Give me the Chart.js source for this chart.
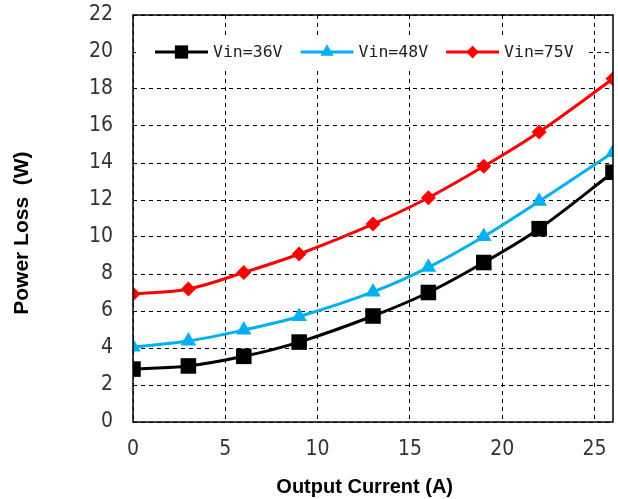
<!DOCTYPE html>
<html lang="en">
<head>
    <meta charset="UTF-8">
    <title>Power Loss vs Output Current</title>
    <script src="https://cdn.jsdelivr.net/npm/chart.js"></script>
    <style>
        html, body {
            margin: 0;
            padding: 0;
            background: #fff;
        }
        .wrap {
            width: 618px;
            height: 499px;
        }
    </style>
</head>
<body>
    <div class="wrap">
        <canvas id="lossChart" width="618" height="499"></canvas>
    </div>

    <script>
        // Measured loss at each load point
        const currents = [0, 3, 6, 9, 13, 16, 19, 22, 26];
        const loss36V = [2.86, 3.03, 3.55, 4.32, 5.73, 7.0, 8.62, 10.45, 13.5];
        const loss48V = [4.05, 4.38, 4.97, 5.7, 7.03, 8.36, 10.03, 11.93, 14.57];
        const loss75V = [6.92, 7.19, 8.08, 9.08, 10.7, 12.12, 13.82, 15.68, 18.55];
        const seriesNames = ['Vin=36V', 'Vin=48V', 'Vin=75V'];

        const tickFont = "'Liberation Sans Narrow', 'DejaVu Sans Condensed', Arial, sans-serif";
        const titleFont = "'Liberation Sans', Arial, sans-serif";

        function toPoints(ys) {
            return currents.map((x, i) => ({ x: x, y: ys[i] }));
        }

        function series(label, ys, color, style, radius) {
            return {
                label: label,
                data: toPoints(ys),
                borderColor: color,
                backgroundColor: color,
                borderWidth: 3,
                pointStyle: style,
                pointRadius: radius,
                pointBorderWidth: 0,
                tension: 0.35
            };
        }

        // Solid frame around the plot and the legend panel inside it
        const framePlugin = {
            id: 'frameAndLegend',
            afterDraw(chart) {
                const ctx = chart.ctx;
                const a = chart.chartArea;
                ctx.save();

                // legend panel hides the grid behind it
                ctx.fillStyle = '#fff';
                ctx.fillRect(a.left + 3, a.top + 21, 449, 34);

                ctx.font = "16.5px 'DejaVu Sans Mono', monospace";
                ctx.textBaseline = 'middle';
                let x = a.left + 22;
                const y = a.top + 37;
                chart.data.datasets.forEach(ds => {
                    ctx.strokeStyle = ds.borderColor;
                    ctx.lineWidth = 3;
                    ctx.beginPath();
                    ctx.moveTo(x, y);
                    ctx.lineTo(x + 53, y);
                    ctx.stroke();
                    ctx.fillStyle = ds.backgroundColor;
                    Chart.helpers.drawPoint(ctx, {
                        pointStyle: ds.pointStyle,
                        radius: ds.pointRadius * 0.85,
                        borderWidth: 0,
                        rotation: 0
                    }, x + 26.5, y);
                    ctx.fillStyle = '#222';
                    ctx.fillText(ds.label, x + 58, y + 1);
                    x += 58 + ctx.measureText(ds.label).width + 18;
                });

                ctx.strokeStyle = '#000';
                ctx.lineWidth = 1.5;
                ctx.strokeRect(a.left, a.top, a.right - a.left, a.bottom - a.top);
                ctx.restore();
            }
        };

        // keep the plot box fixed regardless of label overhang
        function noPadding(scale) {
            scale.paddingLeft = 0;
            scale.paddingRight = 0;
            scale.paddingTop = 0;
            scale.paddingBottom = 0;
        }

        new Chart(document.getElementById('lossChart'), {
            type: 'line',
            data: {
                datasets: [
                    series(seriesNames[0], loss36V, '#000000', 'rect', 11),
                    series(seriesNames[1], loss48V, '#00b0f0', 'triangle', 9),
                    series(seriesNames[2], loss75V, '#ff0000', 'rectRot', 7.5)
                ]
            },
            options: {
                responsive: false,
                animation: false,
                layout: {
                    autoPadding: false,
                    padding: { left: 0, right: 5, top: 15, bottom: 0 }
                },
                plugins: {
                    legend: { display: false },
                    tooltip: { enabled: false }
                },
                scales: {
                    x: {
                        type: 'linear',
                        min: 0,
                        max: 26,
                        afterFit(scale) {
                            scale.height = 77;
                            noPadding(scale);
                        },
                        ticks: {
                            stepSize: 5,
                            includeBounds: false,
                            padding: 15,
                            color: '#333',
                            font: { family: tickFont, size: 21 }
                        },
                        grid: {
                            color: '#000',
                            lineWidth: 1,
                            drawTicks: false
                        },
                        border: { display: false, dash: [4, 4] },
                        title: {
                            display: true,
                            text: 'Output Current (A)   ',
                            color: '#000',
                            font: { family: titleFont, size: 20, weight: 'bold' },
                            padding: { top: 0, bottom: 0 }
                        }
                    },
                    y: {
                        min: 0,
                        max: 22,
                        afterFit(scale) {
                            scale.width = 133;
                            noPadding(scale);
                        },
                        ticks: {
                            stepSize: 2,
                            autoSkip: false,
                            padding: 20,
                            color: '#333',
                            font: { family: tickFont, size: 21 }
                        },
                        grid: {
                            color: '#000',
                            lineWidth: 1,
                            drawTicks: false
                        },
                        border: { display: false, dash: [4, 4] },
                        title: {
                            display: true,
                            text: 'Power Loss  (W)     ',
                            color: '#000',
                            font: { family: titleFont, size: 21, weight: 'bold' },
                            padding: { top: 10, bottom: 0 }
                        }
                    }
                }
            },
            plugins: [framePlugin]
        });
    </script>
</body>
</html>
